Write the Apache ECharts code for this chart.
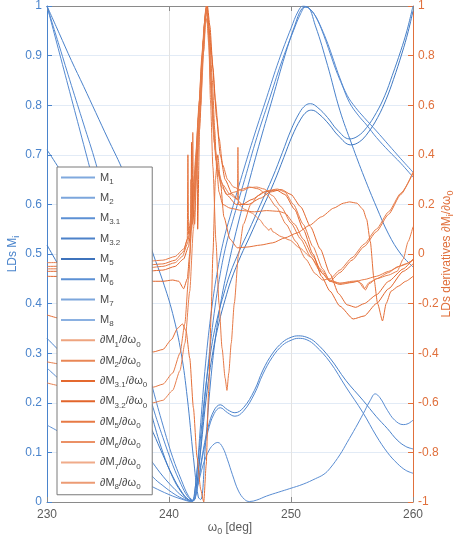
<!DOCTYPE html>
<html>
<head>
<meta charset="utf-8">
<script src="https://cdn.jsdelivr.net/npm/echarts@6/dist/echarts.min.js"></script>
<style>
  html, body { margin: 0; padding: 0; background: #fff; }
  #chart { width: 457px; height: 545px; }
</style>
</head>
<body>
<div id="chart"></div>
<script>
// x range and tick steps
const xRange = [230, 260];
const xStep = 10;
const leftRange = [0, 1];
const leftStep = 0.1;
const rightRange = [-1, 1];
const rightStep = 0.2;

// legend subscripts
const mNames = ["1", "2", "3.1", "3.2", "5", "6", "7", "8"];

// LDs M_i, [omega0 deg, value] (left axis)
const m1 = [[230,1.0],[231,0.907],[232,0.814],[233,0.721],[234,0.628],[235,0.535],[236,0.442],[237,0.349],[238,0.256],[238.7,0.19],[239.5,0.13],[240.3,0.075],[241,0.035],[241.5,0.012],[241.9,0.003],[242.2,0.04],[242.6,0.16],[243,0.28],[243.5,0.39],[244,0.47],[244.5,0.53],[245,0.575],[246,0.66],[247,0.74],[248,0.815],[249,0.89],[250,0.955],[250.6,0.99],[251,1.0],[251.5,0.995],[252,0.98],[252.5,0.955],[253,0.925],[253.5,0.89],[254,0.855],[254.6,0.82],[255.3,0.795],[256,0.775],[257,0.748],[258,0.72],[259,0.692],[260,0.665]];
const m2 = [[230,1.0],[231,0.92],[232,0.84],[233,0.762],[234,0.683],[235,0.59],[236,0.495],[237,0.397],[238,0.297],[238.7,0.226],[239.5,0.155],[240.3,0.09],[241,0.045],[241.6,0.012],[242,0.003],[242.4,0.06],[242.8,0.17],[243.2,0.275],[243.7,0.38],[244.2,0.46],[244.7,0.52],[245.2,0.565],[246.2,0.65],[247.2,0.735],[248.2,0.81],[249.2,0.885],[250.2,0.95],[250.8,0.985],[251.2,0.998],[251.7,0.99],[252.2,0.97],[252.7,0.94],[253.2,0.905],[253.7,0.87],[254.2,0.84],[254.8,0.805],[255.5,0.78],[256.2,0.76],[257,0.735],[258,0.708],[259,0.683],[260,0.655]];
const m3 = [[230,1.0],[231,0.945],[232,0.89],[233,0.838],[234,0.785],[235,0.732],[236.1,0.675],[237,0.62],[238,0.555],[238.7,0.5],[239.5,0.445],[240.3,0.38],[241,0.3],[241.5,0.21],[242,0.09],[242.4,0.01],[242.6,0.005],[243,0.12],[243.4,0.24],[243.8,0.33],[244.3,0.41],[244.8,0.47],[245.5,0.545],[246.5,0.64],[247.5,0.73],[248.5,0.815],[249.5,0.9],[250.3,0.96],[250.9,0.995],[251.3,0.998],[252,0.96],[253,0.88],[254,0.79],[255,0.72],[256,0.655],[257,0.595],[258,0.54],[259,0.5],[260,0.474]];
const m4 = [[230,0.71],[231,0.672],[232,0.63],[233,0.582],[234,0.528],[235,0.468],[236,0.4],[237,0.324],[238,0.235],[238.7,0.165],[239.5,0.1],[240.3,0.05],[241,0.02],[241.6,0.004],[241.9,0.002],[242.1,0.02],[242.5,0.11],[243,0.23],[243.5,0.315],[244,0.375],[244.5,0.42],[245,0.46],[245.8,0.508],[246.5,0.545],[247.5,0.6],[248.5,0.655],[249.3,0.705],[250,0.75],[250.7,0.785],[251.2,0.8],[251.6,0.803],[252.2,0.795],[253,0.775],[253.8,0.75],[254.8,0.732],[255.5,0.738],[256.2,0.755],[257,0.785],[257.7,0.82],[258.3,0.86],[259,0.91],[259.5,0.95],[260,1.0]];
const m5 = [[230,0.518],[231,0.475],[232,0.432],[233,0.39],[234,0.348],[235,0.306],[236,0.265],[237,0.222],[238,0.178],[238.7,0.14],[239.5,0.095],[240.3,0.052],[241,0.022],[241.6,0.005],[242,0.003],[242.2,0.02],[242.6,0.105],[243.1,0.22],[243.6,0.303],[244.1,0.362],[244.6,0.408],[245.1,0.448],[245.9,0.497],[246.6,0.534],[247.6,0.589],[248.6,0.644],[249.4,0.694],[250.1,0.738],[250.8,0.772],[251.3,0.787],[251.7,0.79],[252.3,0.782],[253.1,0.762],[253.9,0.738],[254.9,0.72],[255.6,0.726],[256.3,0.744],[257.1,0.775],[257.8,0.812],[258.4,0.852],[259.1,0.905],[259.6,0.948],[260,0.99]];
const m6 = [[230,0.33],[232,0.28],[234,0.23],[236,0.178],[237.5,0.12],[238.7,0.078],[239.5,0.052],[240.5,0.025],[241.3,0.008],[241.9,0.002],[242.3,0.03],[242.7,0.09],[243.2,0.15],[243.7,0.185],[244.2,0.196],[244.8,0.186],[245.4,0.18],[246.1,0.19],[247,0.225],[247.7,0.266],[248.5,0.3],[249.3,0.322],[250,0.332],[250.6,0.335],[251.3,0.332],[252,0.322],[253.2,0.29],[254.5,0.245],[255.9,0.205],[257,0.172],[257.9,0.148],[258.7,0.125],[259.4,0.112],[260,0.107]];
const m7 = [[230,0.27],[232,0.225],[234,0.18],[236,0.133],[237.5,0.088],[238.7,0.05],[239.5,0.033],[240.5,0.015],[241.3,0.005],[241.9,0.001],[242.3,0.025],[242.7,0.085],[243.2,0.143],[243.7,0.178],[244.2,0.19],[244.8,0.18],[245.4,0.173],[246.1,0.183],[247,0.218],[247.7,0.258],[248.5,0.293],[249.3,0.316],[250,0.326],[250.6,0.33],[251.3,0.327],[252,0.315],[253.2,0.282],[254.5,0.232],[255.9,0.18],[257,0.133],[257.9,0.1],[258.7,0.078],[259.4,0.064],[260,0.058]];
const m8 = [[230,0.155],[232,0.128],[234,0.1],[236,0.07],[237.5,0.046],[238.7,0.03],[240,0.015],[241,0.006],[241.8,0.001],[242.3,0.03],[242.8,0.075],[243.3,0.105],[243.7,0.117],[244,0.12],[244.4,0.11],[244.8,0.085],[245.2,0.055],[245.7,0.022],[246.2,0.005],[246.6,0.001],[247.2,0.004],[248,0.012],[249,0.02],[249.9,0.027],[251,0.036],[252,0.047],[252.7,0.056],[253.2,0.068],[254,0.095],[254.6,0.12],[255.3,0.15],[255.9,0.177],[256.5,0.205],[256.9,0.218],[257.3,0.21],[257.9,0.185],[258.5,0.165],[259.2,0.156],[259.6,0.158],[260,0.165]];

// derivatives dM_i/domega0 (right axis)
const d1 = [[230,-0.035],[232,-0.034],[234,-0.033],[236,-0.032],[238,-0.03],[239.5,-0.025],[240.5,-0.01],[241.2,0.02],[241.6,0.07],[241.9,0.15],[241.95,0.49],[242.0,0.2],[242.2,0.35],[242.45,0.6],[242.7,0.8],[242.9,0.93],[243.05,1.0],[243.25,0.93],[243.5,0.8],[243.8,0.62],[244.1,0.47],[244.4,0.36],[244.8,0.3],[245.3,0.27],[246,0.255],[246.6,0.268],[247.2,0.27],[247.8,0.262],[248.5,0.235],[249.2,0.19],[250,0.125],[250.8,0.06],[251.6,-0.01],[252.4,-0.07],[253.2,-0.11],[254,-0.123],[255,-0.115],[256,-0.103],[257,-0.09],[258,-0.07],[259,-0.048],[260,-0.025]];
const d2 = [[230,-0.05],[234,-0.048],[238,-0.045],[239.5,-0.04],[240.5,-0.025],[241.2,0.01],[241.5,0.06],[241.55,0.4],[241.6,0.08],[241.8,0.15],[242.1,0.32],[242.4,0.55],[242.7,0.78],[242.95,0.95],[243.1,1.0],[243.3,0.9],[243.55,0.7],[243.75,0.5],[243.9,0.35],[244.1,0.25],[244.4,0.2],[245,0.185],[246,0.175],[247,0.17],[248,0.175],[249,0.172],[249.5,0.165],[250.3,0.12],[251,0.06],[251.8,-0.01],[252.6,-0.08],[253.2,-0.11],[254,-0.075],[255,-0.025],[256,0.03],[257,0.09],[258,0.16],[259,0.24],[260,0.33]];
const d3 = [[230,-0.07],[234,-0.069],[238,-0.07],[239.5,-0.065],[240.5,-0.05],[241.2,-0.02],[241.6,0.03],[241.8,0.1],[241.85,0.45],[241.9,0.12],[242.2,0.3],[242.5,0.55],[242.8,0.85],[243.0,0.98],[243.1,1.0],[243.25,0.9],[243.45,0.7],[243.65,0.5],[243.85,0.38],[244.2,0.3],[244.7,0.24],[245.5,0.2],[246.5,0.2],[247.5,0.225],[248.3,0.25],[249.2,0.26],[250,0.24],[250.8,0.19],[251.6,0.11],[252.4,0.02],[253.2,-0.08],[253.9,-0.16],[254.6,-0.205],[255.3,-0.215],[256,-0.2],[257,-0.165],[258,-0.11],[259.2,-0.06],[260,-0.02]];
const d4 = [[230,-0.09],[234,-0.092],[238,-0.1],[238.7,-0.11],[239.5,-0.11],[240.3,-0.105],[240.8,-0.11],[241.2,-0.14],[241.5,-0.1],[241.7,0.0],[241.9,0.2],[242.1,0.12],[242.3,0.42],[242.35,0.1],[242.5,0.5],[242.8,0.8],[243.0,0.95],[243.15,1.0],[243.35,0.92],[243.6,0.75],[243.9,0.55],[244.2,0.4],[244.6,0.3],[245.2,0.24],[246,0.2],[246.8,0.22],[247.8,0.25],[248.8,0.258],[249.5,0.24],[250.3,0.18],[251,0.1],[251.8,0.0],[252.5,-0.09],[253.2,-0.15],[254,-0.21],[255.1,-0.262],[256,-0.25],[257,-0.2],[258,-0.14],[259.2,-0.07],[260,-0.04]];
const d5 = [[230,-0.246],[232,-0.27],[234,-0.3],[236,-0.34],[238,-0.38],[238.7,-0.395],[239.5,-0.385],[240.2,-0.345],[240.7,-0.3],[241.1,-0.282],[241.4,-0.31],[241.7,-0.42],[242.0,-0.62],[242.3,-0.82],[242.6,-0.95],[242.85,-1.0],[243.05,-0.85],[243.25,-0.55],[243.45,-0.25],[243.6,0.0],[243.8,0.3],[244.0,0.4],[244.2,0.3],[244.5,0.15],[245,0.06],[245.6,0.025],[246.4,0.028],[247.5,0.036],[248.5,0.045],[249.5,0.065],[250.5,0.085],[251.5,0.115],[252.5,0.15],[253.5,0.185],[254.3,0.205],[254.8,0.21],[255.4,0.205],[255.9,0.18],[256.2,0.14],[256.5,0.05],[256.8,-0.1],[257.1,-0.2],[257.5,-0.27],[257.8,-0.2],[258.2,-0.15],[258.8,-0.13],[259.4,-0.11],[260,-0.09]];
const d6 = [[230,-0.435],[232,-0.45],[234,-0.47],[236,-0.5],[238,-0.528],[238.7,-0.537],[239.5,-0.525],[240.3,-0.48],[240.9,-0.4],[241.3,-0.28],[241.6,-0.1],[241.9,0.15],[242.2,0.4],[242.5,0.62],[242.8,0.86],[243.0,0.97],[243.1,1.0],[243.25,0.88],[243.4,0.62],[243.6,0.35],[243.85,0.05],[244.1,-0.2],[244.35,-0.38],[244.6,-0.5],[244.75,-0.55],[244.9,-0.48],[245.1,-0.36],[245.35,-0.2],[245.7,0.0],[246.1,0.12],[246.7,0.2],[247.3,0.235],[248,0.255],[248.9,0.262],[249.5,0.25],[250.2,0.2],[251,0.12],[251.8,0.03],[252.6,-0.06],[253.2,-0.11],[254,-0.118],[254.8,-0.115],[255.4,-0.11],[255.8,-0.12],[256.1,-0.145],[256.4,-0.12],[257,-0.1],[258,-0.075],[258.7,-0.052],[259.4,-0.04],[260,-0.024]];
const d7 = [[230,-0.52],[232,-0.54],[234,-0.56],[236,-0.58],[238,-0.595],[238.7,-0.6],[239.5,-0.59],[240.3,-0.55],[240.9,-0.47],[241.3,-0.36],[241.7,-0.15],[242.0,0.1],[242.3,0.35],[242.6,0.6],[242.85,0.82],[243.0,0.93],[243.1,0.95],[243.25,0.85],[243.45,0.65],[243.7,0.45],[244,0.34],[244.4,0.28],[245,0.24],[245.6,0.22],[245.65,0.43],[245.7,0.2],[246.2,0.18],[246.8,0.165],[247.4,0.14],[247.9,0.11],[248.2,0.095],[248.35,0.105],[248.5,0.09],[249.2,0.07],[249.9,0.056],[250.7,0.025],[251.6,-0.012],[252.4,-0.06],[253.2,-0.105],[254,-0.118],[255,-0.11],[255.5,-0.108],[256,-0.14],[256.4,-0.115],[257,-0.1],[258,-0.085],[258.7,-0.07],[259.2,-0.02],[259.6,0.05],[260,0.11]];
const d8 = [[230,-0.06],[234,-0.059],[238,-0.057],[239.5,-0.05],[240.5,-0.035],[241.1,-0.01],[241.5,0.04],[241.75,0.1],[241.8,0.3],[241.85,0.1],[242.1,0.25],[242.4,0.5],[242.65,0.72],[242.9,0.92],[243.05,0.99],[243.2,0.93],[243.4,0.76],[243.6,0.57],[243.8,0.42],[244.0,0.33],[244.3,0.27],[244.8,0.24],[245.4,0.25],[246,0.262],[246.6,0.27],[247.3,0.263],[248,0.24],[248.8,0.19],[249.6,0.12],[250.4,0.05],[251.2,-0.02],[252,-0.08],[252.6,-0.105],[253.2,-0.1],[254,-0.065],[255,-0.015],[256,0.04],[257,0.1],[258,0.17],[259,0.245],[260,0.325]];

const mData = [m1, m2, m3, m4, m5, m6, m7, m8];
const dData = [d1, d2, d3, d4, d5, d6, d7, d8];

const blueLines = ["#5489d0","#5489d0","#4a82cb","#4780c8","#3f78c2","#4a82cb","#5489d0","#5a8dd2"];
const orangeLines = ["#e67c4a","#e5743e","#e26830","#e1652c","#e46f38","#e67a47","#e8804f","#e67c4a"];
const blueIcons = ["#80a9de","#7ca6dc","#5c90d4","#4d82c9","#3e73bc","#5c90d4","#7ca6dc","#8ab0e1"];
const orangeIcons = ["#eea47f","#e98756","#e4692f","#e2652b","#e77a45","#eb9166","#f0ab8a","#ec9b74"];

const blue = "#4a84cc";
const orange = "#e0703c";
const gray = "#5c5c5c";
const font = "Liberation Sans";

const chartDom = document.getElementById("chart");
const chart = echarts.init(chartDom, null, { renderer: "canvas" });

const series = [];
const legendData = [];
mNames.forEach((k, i) => {
  series.push({
    name: "M" + k,
    type: "line",
    yAxisIndex: 0,
    data: mData[i],
    showSymbol: false,
    smooth: 0.4,
    lineStyle: { width: 1, color: blueLines[i] },
    itemStyle: { color: blueLines[i] },
    emphasis: { disabled: true },
  });
  legendData.push({ name: "M" + k, itemStyle: { color: blueIcons[i] } });
});
mNames.forEach((k, i) => {
  series.push({
    name: "dM" + k,
    type: "line",
    yAxisIndex: 1,
    data: dData[i],
    showSymbol: false,
    smooth: 0.2,
    smoothMonotone: "x",
    lineStyle: { width: 1, color: orangeLines[i] },
    itemStyle: { color: orangeLines[i] },
    emphasis: { disabled: true },
  });
  legendData.push({ name: "dM" + k, itemStyle: { color: orangeIcons[i] } });
});

const subRich = (color, size, lh) => ({
  m: { fontSize: size, lineHeight: lh, color: color, fontFamily: font },
  s: { fontSize: size - 3, lineHeight: size - 2, verticalAlign: "bottom", color: color, fontFamily: font },
});

const option = {
  animation: false,
  backgroundColor: "#fff",
  grid: { left: 47, right: 44, top: 6, bottom: 43, outerBoundsMode: "none", containLabel: false },
  legend: {
    orient: "vertical",
    left: 57,
    top: 167,
    padding: [5, 5, 4, 4],
    itemGap: 6.85,
    itemWidth: 34,
    itemHeight: 2,
    icon: "rect",
    backgroundColor: "#fff",
    borderColor: "#7a7a7a",
    borderWidth: 1,
    borderRadius: 0,
    selectedMode: false,
    data: legendData,
    formatter: (name) => {
      if (name.startsWith("d")) {
        return "{m|\u2202M}{s|" + name.slice(2) + "}{m|/\u2202\u03c9}{s|0}";
      }
      return "{m|M}{s|" + name.slice(1) + "}";
    },
    textStyle: { color: "#4a4a4a", fontSize: 11, fontFamily: font, rich: subRich("#4a4a4a", 11, 16) },
  },
  xAxis: [
    {
      type: "value",
      position: "bottom",
      min: xRange[0],
      max: xRange[1],
      interval: xStep,
      name: "{m|\u03c9}{s|0}{m| [deg]}",
      nameLocation: "middle",
      nameGap: 18,
      nameMoveOverlap: false,
      nameTextStyle: { color: gray, fontSize: 12, fontFamily: font, rich: subRich(gray, 12, 16) },
      axisLine: { show: true, onZero: false, lineStyle: { color: "#8a8a8a", width: 1 } },
      axisTick: { show: true, inside: true, length: 5, lineStyle: { color: "#8a8a8a" } },
      axisLabel: { color: gray, fontSize: 12, fontFamily: font, margin: 7 },
      splitLine: { show: true, lineStyle: { color: "#e3e3e3", width: 1 } },
    },
    {
      type: "value",
      position: "top",
      min: xRange[0],
      max: xRange[1],
      interval: xStep,
      axisLine: { show: true, onZero: false, lineStyle: { color: "#8a8a8a", width: 1 } },
      axisTick: { show: true, inside: true, length: 5, lineStyle: { color: "#8a8a8a" } },
      axisLabel: { show: false },
      splitLine: { show: false },
    },
  ],
  yAxis: [
    {
      type: "value",
      position: "left",
      min: leftRange[0],
      max: leftRange[1],
      interval: leftStep,
      name: "{m|LDs M}{s|i}",
      nameLocation: "middle",
      nameRotate: 90,
      nameGap: 26,
      nameMoveOverlap: false,
      nameTextStyle: { color: blue, fontSize: 12, fontFamily: font, rich: subRich(blue, 12, 16) },
      axisLine: { show: true, onZero: false, lineStyle: { color: blue, width: 1 } },
      axisTick: { show: true, inside: true, length: 5, lineStyle: { color: blue } },
      axisLabel: { color: blue, fontSize: 12, fontFamily: font, margin: 5 },
      splitLine: { show: true, lineStyle: { color: "#e2ebf6", width: 1 } },
    },
    {
      type: "value",
      position: "right",
      min: rightRange[0],
      max: rightRange[1],
      interval: rightStep,
      name: "{m|LDs derivatives \u2202M}{s|i}{m|/\u2202\u03c9}{s|0}",
      nameLocation: "middle",
      nameRotate: 90,
      nameGap: 26,
      nameMoveOverlap: false,
      nameTextStyle: { color: orange, fontSize: 12, fontFamily: font, rich: subRich(orange, 12, 16) },
      axisLine: { show: true, onZero: false, lineStyle: { color: orange, width: 1 } },
      axisTick: { show: true, inside: true, length: 5, lineStyle: { color: orange } },
      axisLabel: { color: orange, fontSize: 12, fontFamily: font, margin: 5 },
      splitLine: { show: false },
    },
  ],
  series: series,
};

chart.setOption(option);
</script>
</body>
</html>
